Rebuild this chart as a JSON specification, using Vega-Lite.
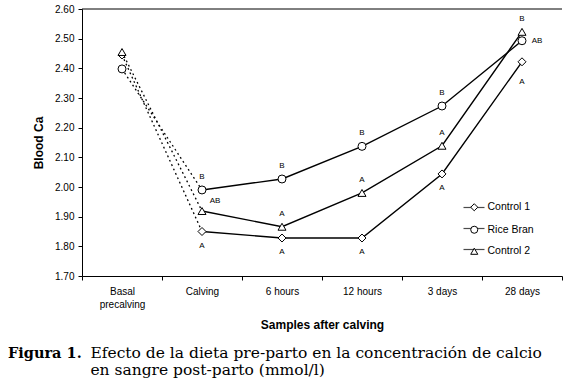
{
  "$schema": "https://vega.github.io/schema/vega-lite/v6.json",
  "width": 480,
  "height": 267,
  "autosize": {"type": "none"},
  "padding": {"left": 82, "top": 9, "right": 3, "bottom": 107},
  "background": "white",
  "config": {"view": {"stroke": null}, "font": "Liberation Sans"},
  "title": {
    "text": "Figura 1.",
    "subtitle": ["\u200b\u2003\u2003\u2003\u2003\u2003\u00a0Efecto de la dieta pre-parto en la concentración de calcio", "\u200b\u2003\u2003\u2003\u2003\u2003\u00a0en sangre post-parto (mmol/l)"],
    "orient": "bottom",
    "anchor": "start",
    "frame": "group",
    "dx": -74,
    "offset": 16,
    "font": "DejaVu Serif",
    "fontSize": 14.5,
    "fontWeight": "bold",
    "color": "black",
    "subtitleFont": "DejaVu Serif",
    "subtitleFontSize": 15.5,
    "subtitleColor": "black",
    "subtitleLineHeight": 17,
    "subtitlePadding": -15
  },
  "data": {
    "values": [
      {"series": "Control 1", "time": "Basal precalving", "value": 2.445, "letter": "", "place": "none"},
      {"series": "Control 1", "time": "Calving", "value": 1.85, "letter": "A", "place": "below"},
      {"series": "Control 1", "time": "6 hours", "value": 1.828, "letter": "A", "place": "below"},
      {"series": "Control 1", "time": "12 hours", "value": 1.828, "letter": "A", "place": "below"},
      {"series": "Control 1", "time": "3 days", "value": 2.044, "letter": "A", "place": "below"},
      {"series": "Control 1", "time": "28 days", "value": 2.422, "letter": "A", "place": "belowfar"},
      {"series": "Rice Bran", "time": "Basal precalving", "value": 2.398, "letter": "", "place": "none"},
      {"series": "Rice Bran", "time": "Calving", "value": 1.99, "letter": "B", "place": "above"},
      {"series": "Rice Bran", "time": "6 hours", "value": 2.027, "letter": "B", "place": "above"},
      {"series": "Rice Bran", "time": "12 hours", "value": 2.137, "letter": "B", "place": "above"},
      {"series": "Rice Bran", "time": "3 days", "value": 2.273, "letter": "B", "place": "above"},
      {"series": "Rice Bran", "time": "28 days", "value": 2.493, "letter": "AB", "place": "right"},
      {"series": "Control 2", "time": "Basal precalving", "value": 2.455, "letter": "", "place": "none"},
      {"series": "Control 2", "time": "Calving", "value": 1.919, "letter": "AB", "place": "upright"},
      {"series": "Control 2", "time": "6 hours", "value": 1.866, "letter": "A", "place": "above"},
      {"series": "Control 2", "time": "12 hours", "value": 1.98, "letter": "A", "place": "above"},
      {"series": "Control 2", "time": "3 days", "value": 2.139, "letter": "A", "place": "above"},
      {"series": "Control 2", "time": "28 days", "value": 2.523, "letter": "B", "place": "above"}
    ]
  },
  "layer": [
    {
      "transform": [{"filter": {"field": "time", "oneOf": ["Basal precalving", "Calving"]}}],
      "mark": {"type": "line", "color": "black", "strokeWidth": 1.3, "strokeDash": [1.8, 3]},
      "encoding": {
        "x": {"field": "time", "type": "nominal", "scale": {"type": "band", "domain": ["Basal precalving", "Calving", "6 hours", "12 hours", "3 days", "28 days"], "paddingInner": 0, "paddingOuter": 0},
          "axis": {"title": "Samples after calving", "titleFontSize": 12, "titleFontWeight": "bold", "titleColor": "black", "titlePadding": 10, "labelFontSize": 10, "labelColor": "black", "labelAngle": 0, "tickBand": "extent", "tickSize": 4, "tickColor": "black", "domainColor": "black", "labelPadding": 6, "labelLineHeight": 13.5, "grid": false,
            "labelExpr": "datum.value == 'Basal precalving' ? ['Basal', 'precalving'] : datum.value"}},
        "y": {"field": "value", "type": "quantitative", "scale": {"domain": [1.7, 2.6], "zero": false, "nice": false},
          "axis": {"title": "Blood Ca", "titleFontSize": 12, "titleFontWeight": "bold", "titleColor": "black", "titlePadding": 9, "labelFontSize": 10, "labelColor": "black", "labelPadding": 4, "tickCount": 10, "format": ".2f", "tickSize": 4, "tickColor": "black", "domainColor": "black", "grid": false, "labelOverlap": false}},
        "detail": {"field": "series"}
      }
    },
    {
      "transform": [{"filter": "datum.time != 'Basal precalving'"}],
      "mark": {"type": "line", "color": "black", "strokeWidth": 1.4},
      "encoding": {
        "x": {"field": "time", "type": "nominal"},
        "y": {"field": "value", "type": "quantitative"},
        "detail": {"field": "series"}
      }
    },
    {
      "data": {"values": [{}]},
      "mark": {"type": "rule", "color": "black", "strokeWidth": 1},
      "encoding": {"y": {"datum": 2.6, "type": "quantitative"}}
    },
    {
      "transform": [{"filter": "false"}],
      "mark": {"type": "point", "filled": false, "stroke": "black", "strokeWidth": 1.2},
      "encoding": {
        "shape": {"field": "series", "type": "nominal",
          "scale": {"domain": ["Control 1", "Rice Bran", "Control 2"], "range": ["stroke", "stroke", "stroke"]},
          "legend": {"title": null, "orient": "none", "legendX": 380.5, "legendY": 187, "padding": 0, "symbolSize": 441, "symbolStrokeWidth": 1.2, "symbolStrokeColor": "black", "labelFontSize": 10.5, "labelFont": "Liberation Sans", "labelColor": "black", "labelOpacity": 0, "labelExpr": "''", "labelOffset": 1, "rowPadding": 4}}
      }
    },
    {
      "mark": {"type": "point", "filled": true, "fill": "white", "stroke": "black", "strokeWidth": 1, "size": 64, "opacity": 1},
      "encoding": {
        "x": {"field": "time", "type": "nominal"},
        "y": {"field": "value", "type": "quantitative"},
        "shape": {"field": "series", "type": "nominal", "scale": {"domain": ["Control 1", "Rice Bran", "Control 2"], "range": ["diamond", "circle", "triangle-up"]},
          "legend": {"title": null, "orient": "none", "legendX": 387, "legendY": 193, "padding": 0, "symbolSize": 50, "labelFontSize": 10.5, "labelFont": "Liberation Sans", "labelColor": "black", "labelOffset": 8, "rowPadding": 10.5, "symbolStrokeWidth": 1}}
      }
    },
    {
      "transform": [{"filter": "datum.place == 'above'"}],
      "mark": {"type": "text", "fontSize": 8, "color": "black", "dy": -13, "align": "center", "baseline": "middle"},
      "encoding": {"x": {"field": "time", "type": "nominal"}, "y": {"field": "value", "type": "quantitative"}, "text": {"field": "letter"}}
    },
    {
      "transform": [{"filter": "datum.place == 'below'"}],
      "mark": {"type": "text", "fontSize": 8, "color": "black", "dy": 14, "align": "center", "baseline": "middle"},
      "encoding": {"x": {"field": "time", "type": "nominal"}, "y": {"field": "value", "type": "quantitative"}, "text": {"field": "letter"}}
    },
    {
      "transform": [{"filter": "datum.place == 'belowfar'"}],
      "mark": {"type": "text", "fontSize": 8, "color": "black", "dy": 20, "align": "center", "baseline": "middle"},
      "encoding": {"x": {"field": "time", "type": "nominal"}, "y": {"field": "value", "type": "quantitative"}, "text": {"field": "letter"}}
    },
    {
      "transform": [{"filter": "datum.place == 'right'"}],
      "mark": {"type": "text", "fontSize": 8, "color": "black", "dx": 15, "dy": 0, "align": "center", "baseline": "middle"},
      "encoding": {"x": {"field": "time", "type": "nominal"}, "y": {"field": "value", "type": "quantitative"}, "text": {"field": "letter"}}
    },
    {
      "transform": [{"filter": "datum.place == 'upright'"}],
      "mark": {"type": "text", "fontSize": 8, "color": "black", "dx": 13, "dy": -10, "align": "center", "baseline": "middle"},
      "encoding": {"x": {"field": "time", "type": "nominal"}, "y": {"field": "value", "type": "quantitative"}, "text": {"field": "letter"}}
    }
  ],
  "resolve": {"scale": {"shape": "independent"}}
}
